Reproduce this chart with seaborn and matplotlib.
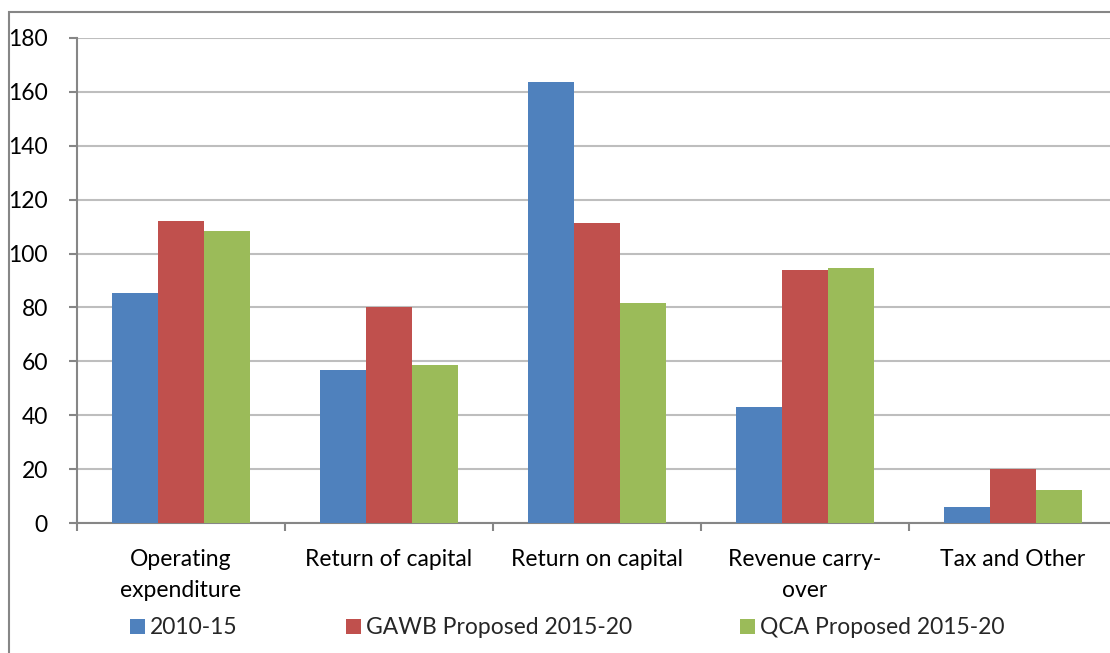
import matplotlib
matplotlib.use("Agg")
import matplotlib.pyplot as plt
from matplotlib.patches import Patch, Rectangle
import pandas as pd
import seaborn as sns

categories = [
    "Operating\nexpenditure",
    "Return of capital",
    "Return on capital",
    "Revenue carry-\nover",
    "Tax and Other",
]
series = ["2010-15", "GAWB Proposed 2015-20", "QCA Proposed 2015-20"]
values_2010 = [85.3, 56.6, 163.7, 43.1, 6.0]
values_gawb = [112.0, 80.1, 111.2, 93.9, 20.1]
values_qca = [108.3, 58.8, 81.7, 94.8, 12.1]
colors = ["#4F81BD", "#C0504D", "#9BBB59"]
y_ticks = list(range(0, 181, 20))

df = pd.DataFrame(
    {
        "category": categories * 3,
        "series": [s for s in series for _ in categories],
        "value": values_2010 + values_gawb + values_qca,
    }
)

sns.set_theme(style="white")
plt.rcParams["font.family"] = ["Lato", "DejaVu Sans"]

W, H = 1110, 653
FS = 16.5
fig = plt.figure(figsize=(W / 100, H / 100), dpi=100)
ax = fig.add_axes([77 / W, 1 - 523 / H, 1040 / W, 485 / H])

sns.barplot(
    data=df, x="category", y="value", hue="series", order=categories,
    hue_order=series, palette=colors, width=0.663, saturation=1,
    edgecolor="none", linewidth=0, legend=False, ax=ax, zorder=3,
)

ax.set_xlim(-0.5, 4.5)
ax.set_ylim(0, 180)
ax.set_yticks(y_ticks)
ax.set_xlabel("")
ax.set_ylabel("")
ax.yaxis.grid(True, color="#BEBEBE", linewidth=1.5, zorder=0)
ax.set_axisbelow(True)

for side in ["top", "right"]:
    ax.spines[side].set_visible(False)
for side in ["left", "bottom"]:
    ax.spines[side].set_color("#868686")
    ax.spines[side].set_linewidth(1.5)

ax.tick_params(axis="y", which="major", length=6, width=1.5, color="#868686",
               labelsize=FS, pad=15, labelcolor="black", left=True)
ax.set_xticks(range(len(categories)))
ax.set_xticklabels(categories, linespacing=1.55)
ax.set_xticks([i - 0.5 for i in range(len(categories) + 1)], minor=True)
ax.tick_params(axis="x", which="major", length=0, labelsize=FS, pad=19,
               labelcolor="black")
ax.tick_params(axis="x", which="minor", length=6, width=1.5, color="#868686",
               bottom=True)

handles = [Patch(facecolor=c, edgecolor="none") for c in colors]
fig.legend(
    handles, series, loc="center left", bbox_to_anchor=(130 / W, 1 - 628 / H),
    ncol=3, frameon=False, fontsize=FS, handlelength=0.66, handleheight=0.66,
    handletextpad=0.22, columnspacing=4.7, borderpad=0, borderaxespad=0,
)

fig.patches.append(
    Rectangle((9 / W, -0.1), 1.2, 1 - 12 / H + 0.1, transform=fig.transFigure,
              fill=False, edgecolor="#868686", linewidth=1.5)
)

fig.savefig("out.png", dpi=100)
